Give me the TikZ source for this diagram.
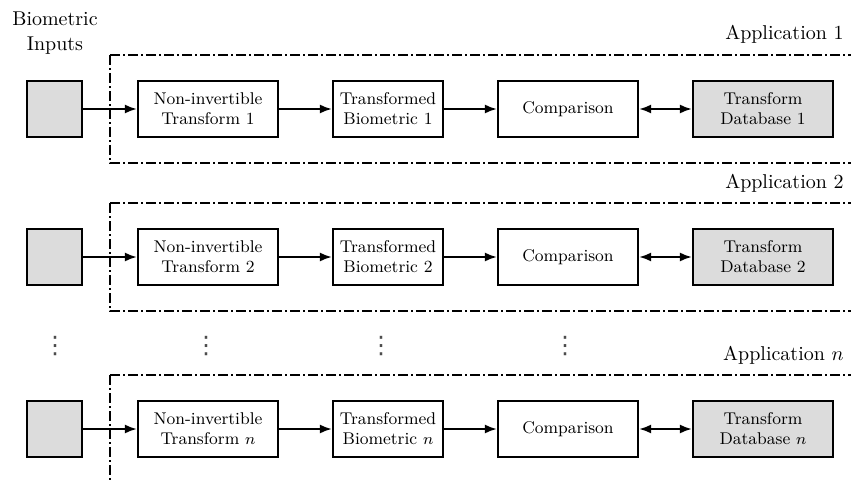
\documentclass[tikz,border=0pt]{standalone}
\usepackage{fontspec}
\newfontfamily\dotsfont{DejaVu Sans}
\usetikzlibrary{arrows.meta}
\definecolor{boxgray}{RGB}{220,220,220}
\begin{document}
\begin{tikzpicture}[x=0.5pt,y=-0.5pt,
  blk/.style={draw, line width=1.1pt, minimum height=28pt, inner sep=0pt,
    align=center, font=\fontsize{8.5}{10}\selectfont},
  wide/.style={blk, minimum width=70pt},
  narrow/.style={blk, minimum width=55pt},
  inbox/.style={blk, minimum width=27.5pt, fill=boxgray},
  shaded/.style={fill=boxgray},
  tip/.tip={Latex[length=6pt,width=4.5pt]},
  link/.style={line width=1pt, -tip},
  both/.style={line width=1pt, tip-tip},
  appframe/.style={line width=0.8pt, dash pattern=on 5pt off 1.6pt on 0.8pt off 1.6pt},
  applabel/.style={anchor=base east, inner sep=0pt, font=\fontsize{10}{12}\selectfont},
  dotsmark/.style={inner sep=0pt, text=black!70, font=\dotsfont\fontsize{12}{13}\selectfont},
]
\useasboundingbox (0,0) rectangle (851,481);
\clip (0,0) rectangle (851,481);

% column heading
\node[align=center, inner sep=0pt, font=\fontsize{10}{12.5}\selectfont] (head) at (55,33) {Biometric\\Inputs};

% one row per application
\foreach \r/\y/\lab in {1/109/1, 2/257/2, 3/429/{$n$}}{
  % dash-dotted application frame
  \draw[appframe] (110,\y-54) rectangle (880,\y+54);
  \node[applabel] (app\r) at (844,\y-69) {Application \lab};

  \node[inbox] (in\r) at (54.5,\y) {};
  \node[wide] (nit\r) at (208,\y) {Non-invertible\\Transform \lab};
  \node[narrow] (tb\r) at (388,\y) {Transformed\\Biometric \lab};
  \node[wide] (cmp\r) at (568,\y) {Comparison};
  \node[wide, shaded] (db\r) at (763,\y) {Transform\\Database \lab};

  \draw[link] (in\r) -- (nit\r);
  \draw[link] (nit\r) -- (tb\r);
  \draw[link] (tb\r) -- (cmp\r);
  \draw[both] (cmp\r) -- (db\r);
}

% ellipsis between application 2 and application n
\node[dotsmark] (d1) at (55,346) {⋮};
\node[dotsmark] (d2) at (206,346) {⋮};
\node[dotsmark] (d3) at (381,346) {⋮};
\node[dotsmark] (d4) at (565,346) {⋮};
\end{tikzpicture}
\end{document}
